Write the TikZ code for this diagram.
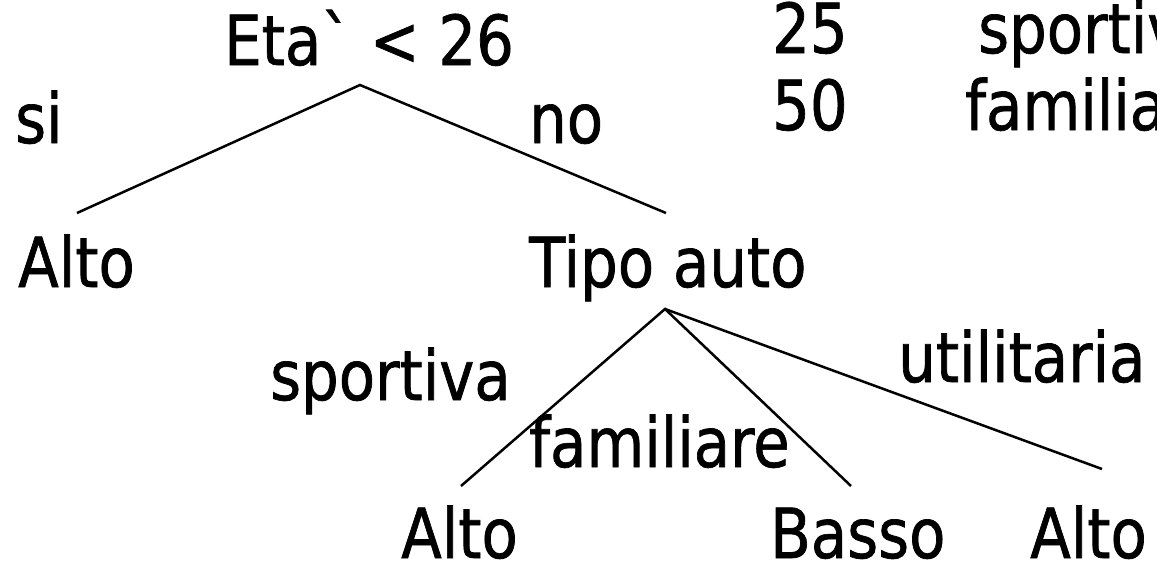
\documentclass[tikz,border=0pt]{standalone}
\usepackage{fontspec}
\setmainfont{DejaVu Sans}[FakeStretch=0.86,FakeBold=1,Ligatures=TeXOff]
\begin{document}
\begin{tikzpicture}[x=1pt,y=-1pt,
  lbl/.style={anchor=base west,inner sep=0pt,font=\fontsize{69}{72}\selectfont},
  edge/.style={line width=2.5pt}]
\fill[white] (0,0) rectangle (1157,563);
\useasboundingbox (0,0) rectangle (1157,563);
% texts
\node[lbl] (root) at (224,65) {Eta` < 26};
\node[lbl] (si) at (15,143) {si};
\node[lbl] (no) at (529,143) {no};
\node[lbl] (n25) at (772,53) {25};
\node[lbl] (n50) at (772,130) {50};
\node[lbl] (t1) at (978,53) {sportiva};
\node[lbl] (t2) at (965,130) {familiare};
\node[lbl] (alto1) at (18,287) {Alto};
\node[lbl] (tipo) at (529,287) {Tipo auto};
\node[lbl] (sport) at (270,400) {sportiva};
\node[lbl] (fam) at (529,467) {familiare};
\node[lbl] (util) at (898,382) {utilitaria};
\node[lbl] (alto2) at (401,558) {Alto};
\node[lbl] (basso) at (770,558) {Basso};
\node[lbl] (alto3) at (1030,558) {Alto};
% connector ends
\coordinate (rootA) at (360,85);
\coordinate (alto1T) at (77,213);
\coordinate (tipoT) at (666,213);
\coordinate (tipoA) at (665,309);
\coordinate (alto2T) at (461,486);
\coordinate (bassoT) at (851,486);
\coordinate (alto3T) at (1102,469);
\draw[edge] (alto1T) -- (rootA) -- (tipoT);
\draw[edge] (alto2T) -- (tipoA) -- (bassoT);
\draw[edge] (tipoA) -- (alto3T);
\end{tikzpicture}
\end{document}
